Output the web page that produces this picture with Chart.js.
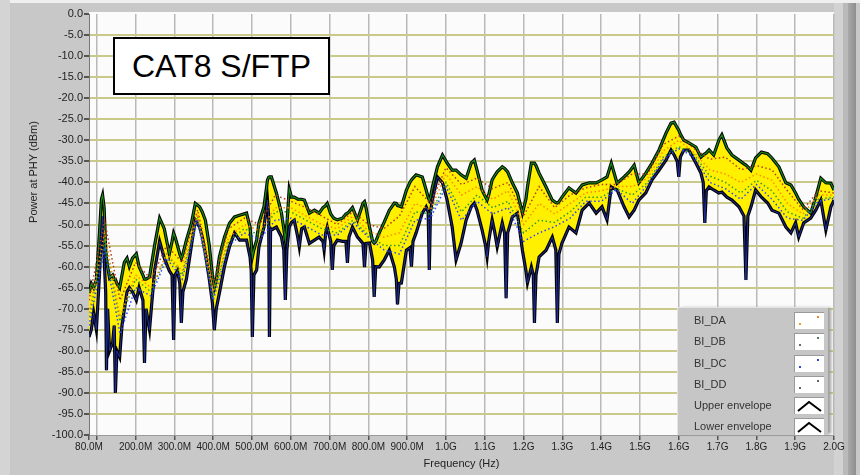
<!DOCTYPE html>
<html lang="en">
<head>
    <meta charset="UTF-8">
    <title>CAT8 S/FTP - Power at PHY</title>
    <script src="https://cdn.jsdelivr.net/npm/chart.js"></script>
    <style>
        body { margin: 0; background: #c8c8c8; font-family: "Liberation Sans", Arial, sans-serif; }
        .panel { position: relative; width: 860px; height: 475px; overflow: hidden; background: #c8c8c8; }
        .edge { position: absolute; }
        #chart { position: absolute; left: 0; top: 0; }
        .ylabel {
            position: absolute; left: -47px; top: 166px; width: 160px; text-align: center;
            font-size: 11px; color: #222; transform: rotate(-90deg);
        }
        .title-box {
            position: absolute; left: 113px; top: 37px; width: 213px; height: 54px;
            background: #fff; border: 2px solid #000; font-size: 32px; line-height: 54px;
            text-align: center; color: #000;
        }
        .legend {
            position: absolute; left: 677px; top: 307px; width: 150px; height: 127px;
            background: #c6c6c6; border-top: 1px solid #e4e4e4; border-left: 1px solid #e4e4e4;
            box-shadow: 4px 0 3px -1px #9e9e9e;
        }
        .legend .row { position: absolute; left: 0; width: 150px; height: 21px; font-size: 11px; color: #333; }
        .legend .row span { position: absolute; left: 16px; top: 4px; }
        .legend .sw {
            position: absolute; left: 116px; top: 2px; width: 29px; height: 16px; background: #fff;
            border-top: 1px solid #9a9a9a; border-left: 1px solid #9a9a9a;
        }
        .legend .dot { position: absolute; width: 2px; height: 2px; }
    </style>
</head>
<body>
<div class="panel">
    <!-- frame shading -->
    <div class="edge" style="left:0;top:0;width:860px;height:3px;background:#efefef"></div>
    <div class="edge" style="left:0;top:0;width:10px;height:475px;background:#d4d4d4"></div>
    <div class="edge" style="left:834px;top:3px;width:9px;height:472px;background:#d2d2d2"></div>
    <div class="edge" style="left:843px;top:3px;width:5px;height:472px;background:#bababa"></div>
    <div class="edge" style="left:848px;top:3px;width:8px;height:472px;background:linear-gradient(90deg,#a9a9a9,#8e8e8e)"></div>

    <canvas id="chart" width="860" height="475"></canvas>

    <div class="ylabel">Power at PHY (dBm)</div>
    <div class="title-box">CAT8 S/FTP</div>

    <div class="legend">
        <div class="row" style="top:2px"><span>BI_DA</span><div class="sw"><i class="dot" style="left:4px;top:10px;background:#f0a020"></i><i class="dot" style="left:22px;top:3px;background:#f08020"></i></div></div>
        <div class="row" style="top:23px"><span>BI_DB</span><div class="sw"><i class="dot" style="left:4px;top:10px;background:#557755"></i><i class="dot" style="left:22px;top:3px;background:#557755"></i></div></div>
        <div class="row" style="top:45px"><span>BI_DC</span><div class="sw"><i class="dot" style="left:4px;top:10px;background:#3344dd"></i><i class="dot" style="left:22px;top:3px;background:#3344dd"></i></div></div>
        <div class="row" style="top:66px"><span>BI_DD</span><div class="sw"><i class="dot" style="left:4px;top:10px;background:#666"></i><i class="dot" style="left:22px;top:3px;background:#666"></i></div></div>
        <div class="row" style="top:87px"><span>Upper envelope</span><div class="sw"><svg width="29" height="16"><polyline points="3,13 14,4 26,13" fill="none" stroke="#000" stroke-width="2"/></svg></div></div>
        <div class="row" style="top:108px"><span>Lower envelope</span><div class="sw"><svg width="29" height="16"><polyline points="3,13 14,4 26,13" fill="none" stroke="#000" stroke-width="2"/></svg></div></div>
    </div>
</div>

<script>
// frequency in MHz, power in dBm
const FREQ = [80, 86, 92, 99, 107, 112, 115, 119, 123, 125, 128, 133, 141, 145, 148, 152, 159, 165, 171, 178,
    184, 192, 202, 209, 219, 223, 227, 236, 249, 262, 274, 287, 294, 298, 302, 308, 314, 318, 322, 331,
    344, 354, 365, 372, 380, 390, 398, 403, 408, 416, 429, 442, 455, 468, 486, 495, 498, 501, 505, 512,
    518, 531, 540, 543, 545, 548, 550, 563, 576, 582, 586, 590, 596, 602, 609, 618, 622, 628, 635, 648,
    661, 673, 683, 686, 690, 694, 703, 707, 711, 720, 733, 742, 746, 750, 759, 772, 786, 790, 794, 803,
    811, 815, 819, 828, 841, 854, 867, 872, 875, 879, 885, 898, 907, 911, 915, 923, 939, 949, 954, 957,
    960, 965, 978, 991, 1003, 1016, 1026, 1039, 1052, 1065, 1073, 1080, 1093, 1102, 1106, 1110, 1119, 1126, 1132, 1145,
    1151, 1155, 1159, 1171, 1184, 1197, 1206, 1210, 1220, 1225, 1228, 1232, 1240, 1258, 1274, 1283, 1287, 1291, 1299, 1317,
    1335, 1351, 1369, 1387, 1402, 1415, 1426, 1441, 1459, 1472, 1485, 1497, 1515, 1531, 1549, 1567, 1580, 1588, 1596, 1600,
    1604, 1613, 1626, 1644, 1657, 1663, 1667, 1671, 1678, 1690, 1703, 1711, 1724, 1737, 1755, 1768, 1773, 1778, 1786, 1798,
    1813, 1829, 1840, 1858, 1876, 1889, 1901, 1909, 1922, 1940, 1953, 1966, 1979, 1992, 2000];

const UPPER = [-66.3, -64, -65, -63, -52, -44, -43, -46, -56, -58, -60, -62.7, -62, -63, -63, -64, -65, -62, -59, -58,
    -60, -58, -57, -60, -62, -63, -63, -62.5, -55, -48.5, -51, -57, -54, -52, -53, -55, -57, -58, -57, -53.7,
    -49.7, -45, -45.8, -47, -49, -55, -62, -65, -63, -57.7, -53, -49.7, -48.2, -47.8, -47.3, -50.6, -54, -57.7, -56, -53.7,
    -49.6, -45.8, -39.4, -38.8, -38.7, -38.7, -38.7, -42.5, -47.3, -51, -53.7, -50, -41.5, -43.5, -43.5, -44, -44, -44, -44.2, -47.3,
    -46.6, -47.3, -46, -45.8, -45.5, -45, -47.5, -48, -48.5, -48.9, -48.5, -47.5, -47.3, -47, -46, -48.9, -45, -44.6, -46, -50.6,
    -54, -54.4, -54, -52, -49.4, -46.6, -44.9, -45, -45.5, -45.6, -45.8, -41.8, -40, -39.4, -39, -38.2, -38.7, -41.8, -43.5, -44.2,
    -43.5, -41.1, -36.3, -33.5, -35.4, -37.1, -37.1, -38.2, -39, -35.4, -34.7, -37.1, -41.8, -43.5, -44.2, -43, -39.4, -38.3, -37.5, -36.3,
    -36.7, -37.1, -37.5, -40.1, -42.5, -47.3, -44, -41.1, -35.4, -35.4, -35.4, -36, -37.8, -41.1, -44.2, -44.8, -44.9, -44.6, -43.5, -41.3,
    -42.5, -40.6, -40.1, -40.1, -39.4, -38.7, -35.4, -40.2, -38.7, -37.5, -35.9, -40.1, -37.8, -35.4, -32.3, -28.3, -25.9, -25.7, -27, -27.6,
    -28.5, -30, -30.6, -31.6, -34, -33.5, -33.2, -33, -32.3, -33.5, -30, -28.7, -31.8, -33.5, -34.7, -35.6, -35.9, -36.3, -37.1, -34.2,
    -32.8, -33.2, -34.2, -36.3, -40.1, -40.6, -42.5, -44, -45.8, -47.3, -43.5, -39, -40.1, -40.2, -41.8];

const LOWER = [-76.7, -75, -71, -75, -62, -52, -48, -58, -66, -84.6, -70, -80, -78, -74, -90, -80, -81.5, -74, -70.3, -66,
    -65, -66, -68, -65, -68, -82.9, -70, -75, -61, -54, -58, -61, -62, -77.4, -62, -61, -64, -73.4, -66, -63,
    -55, -49, -50.6, -53, -57, -63, -68.6, -75.1, -70, -66.3, -60, -55.3, -52, -53.7, -53.7, -57.7, -61, -76.7, -62, -60.8,
    -55.3, -50.6, -44.2, -48, -76.7, -51, -51.3, -50.6, -53, -56, -67.9, -56, -50.6, -49.5, -49, -53, -55.3, -51, -50.6, -54.5,
    -53.7, -53, -54, -56.1, -52, -50.6, -54, -60.8, -55, -53.7, -54, -54, -59.1, -53, -50.6, -53, -54.5, -60.1, -54.5, -54.4,
    -58.5, -67.2, -60, -60.1, -58.4, -56.1, -60.1, -63, -69, -64, -63.9, -56.1, -55.5, -60, -54, -52, -47.3, -45.8, -47, -60.8,
    -47, -44.2, -38.7, -40.1, -44.2, -50.6, -58.4, -54.4, -48.9, -45.8, -44.9, -46.6, -51.3, -55, -57.7, -54, -48.9, -52, -55.3, -49.6,
    -52, -67.5, -52, -48.2, -47.3, -56.1, -61, -63.9, -60.1, -62, -73.4, -62, -57.7, -56.1, -53, -56, -73.4, -57, -54.4, -50.6,
    -52, -46.6, -44.9, -47.3, -45.8, -48.9, -41.1, -41.8, -45.8, -48.2, -46.6, -44.2, -42.5, -39.4, -37.1, -34.7, -32.3, -33.5, -35, -38.7,
    -34, -32.3, -32.3, -35.4, -37.8, -40, -49.6, -42, -41.1, -41.8, -42.5, -42.3, -43.5, -44.2, -45.8, -48, -63.2, -48, -45.8, -41.8,
    -43.5, -44.9, -46.6, -47.3, -50.6, -52, -49.6, -53, -49.6, -48.5, -46.6, -44.2, -51.3, -45.8, -44.2];

// the four pairs, read at a coarser step
const PAIR_FREQ = [80, 120, 160, 200, 240, 280, 320, 360, 400, 440, 480, 520, 560, 600, 640, 680, 720, 760, 800, 840,
    880, 920, 960, 1000, 1040, 1080, 1120, 1160, 1200, 1240, 1280, 1320, 1360, 1400, 1440, 1480, 1520, 1560, 1600, 1640,
    1680, 1720, 1760, 1800, 1840, 1880, 1920, 1960, 2000];
const BI_DA = [-71, -52, -72, -62, -65, -57, -61, -47.5, -66, -53, -50, -51.5, -46, -46, -48, -50, -51, -48, -51.5, -53,
    -52, -45, -46.5, -38, -43, -41, -44, -42, -50, -45, -47.5, -45, -42.5, -42, -41, -41, -39, -32.5, -30, -33,
    -37, -38, -40, -38, -39.5, -45, -47.5, -43, -43];
const BI_DB = [-68, -49, -68, -59, -63, -55, -59, -46.5, -64, -51, -48.5, -50, -43, -44.5, -46, -48, -50, -47, -50, -51,
    -48, -41, -45, -36.5, -40.5, -39, -41.5, -40, -48, -41, -46, -43, -41.3, -40.5, -40.5, -38, -38, -31, -29, -32,
    -34.5, -34, -37, -36, -37, -42, -46.5, -42, -42.5];
const BI_DC = [-74, -56, -76, -65, -67, -58, -63, -49, -68, -55, -52, -53.5, -49, -48.5, -50.5, -52.5, -52.5, -49.5, -53, -56,
    -57, -49, -48.5, -41, -49, -44.5, -47.5, -46, -54, -52, -50.5, -48.5, -44.5, -44.5, -41.7, -45, -40.5, -34.5, -32, -34,
    -40, -41.5, -44, -40.5, -44, -48.5, -49, -44.5, -43.8];
const BI_DD = [-72, -54, -73, -63, -66, -57, -62, -48, -67, -54, -51, -52.5, -47, -47, -49, -51, -52, -49, -52.5, -55,
    -55, -47, -47.5, -40, -47, -43, -46, -44.5, -52, -49, -49.5, -47, -43.5, -43.5, -41.5, -43, -40, -34, -31.5, -33.5,
    -38.5, -40, -42.5, -39.5, -42, -47, -48.5, -44, -43.5];

const X_TICKS = [80, 100, 200, 300, 400, 500, 600, 700, 800, 900, 1000, 1100, 1200, 1300, 1400, 1500, 1600, 1700, 1800, 1900, 2000];

function pts(xs, ys) {
    return xs.map((x, i) => ({ x: x, y: ys[i] }));
}

function pairLine(label, data, color) {
    return {
        label: label, data: pts(PAIR_FREQ, data), borderColor: color, borderWidth: 1.5,
        borderDash: [1.5, 2.5], pointRadius: 0, fill: false
    };
}

// white plot background
const plotBg = {
    id: 'plotBg',
    beforeDraw(chart) {
        const a = chart.chartArea;
        chart.ctx.save();
        chart.ctx.fillStyle = '#fbfbfb';
        chart.ctx.fillRect(a.left, a.top - 2, a.right - a.left, a.bottom - a.top + 2);
        chart.ctx.restore();
    }
};

new Chart(document.getElementById('chart').getContext('2d'), {
    type: 'line',
    data: {
        datasets: [
            pairLine('BI_DA', BI_DA, '#ff8a00'),
            pairLine('BI_DB', BI_DB, '#b23a1e'),
            pairLine('BI_DC', BI_DC, '#2a44ff'),
            pairLine('BI_DD', BI_DD, '#2f9a2f'),
            { label: 'Upper envelope', data: pts(FREQ, UPPER), borderColor: '#168a16', borderWidth: 1.2, pointRadius: 0, fill: false },
            { label: 'Lower envelope', data: pts(FREQ, LOWER), borderColor: '#2233b0', borderWidth: 0.9, pointRadius: 0, fill: false },
            { label: 'upper outline', data: pts(FREQ, UPPER), borderColor: '#000', borderWidth: 3.2, pointRadius: 0, fill: false },
            { label: 'lower outline', data: pts(FREQ, LOWER), borderColor: '#000', borderWidth: 3.2, pointRadius: 0,
              fill: { target: 6 }, backgroundColor: '#fff000' }
        ]
    },
    options: {
        responsive: false,
        animation: false,
        layout: { padding: { top: 14, right: 26, left: 0, bottom: 0 } },
        plugins: { legend: { display: false }, tooltip: { enabled: false } },
        scales: {
            x: {
                type: 'linear', min: 80, max: 2000,
                afterBuildTicks: (scale) => { scale.ticks = X_TICKS.map(v => ({ value: v })); },
                afterFit: (scale) => { scale.height = 40; },
                ticks: {
                    autoSkip: false, maxRotation: 0, minRotation: 0, padding: 1,
                    color: '#222', font: { family: 'Liberation Sans', size: 10 },
                    callback: (v) => v === 100 ? '' : (v < 1000 ? v.toFixed(1) + 'M' : (v / 1000).toFixed(1) + 'G')
                },
                grid: {
                    color: (c) => c.tick && c.tick.value === 80 ? 'rgba(0,0,0,0)' : '#b9b9b9',
                    lineWidth: 1.5, tickColor: '#555', tickLength: 5
                },
                border: { color: '#9a9a9a' },
                title: {
                    display: true, text: 'Frequency (Hz)', color: '#222',
                    font: { family: 'Liberation Sans', size: 11 }, padding: { top: 0, bottom: 4 }
                }
            },
            y: {
                min: -100, max: 0,
                afterFit: (scale) => { scale.width = 89; },
                ticks: {
                    stepSize: 5, padding: 1, color: '#222',
                    font: { family: 'Liberation Sans', size: 11 },
                    callback: (v) => v.toFixed(1)
                },
                grid: {
                    color: (c) => c.tick && (c.tick.value === 0 || c.tick.value === -100) ? 'rgba(0,0,0,0)' : '#c9c98a',
                    lineWidth: 2, tickColor: '#555', tickLength: 5
                },
                border: { color: '#777' }
            }
        }
    },
    plugins: [plotBg]
});
</script>
</body>
</html>
